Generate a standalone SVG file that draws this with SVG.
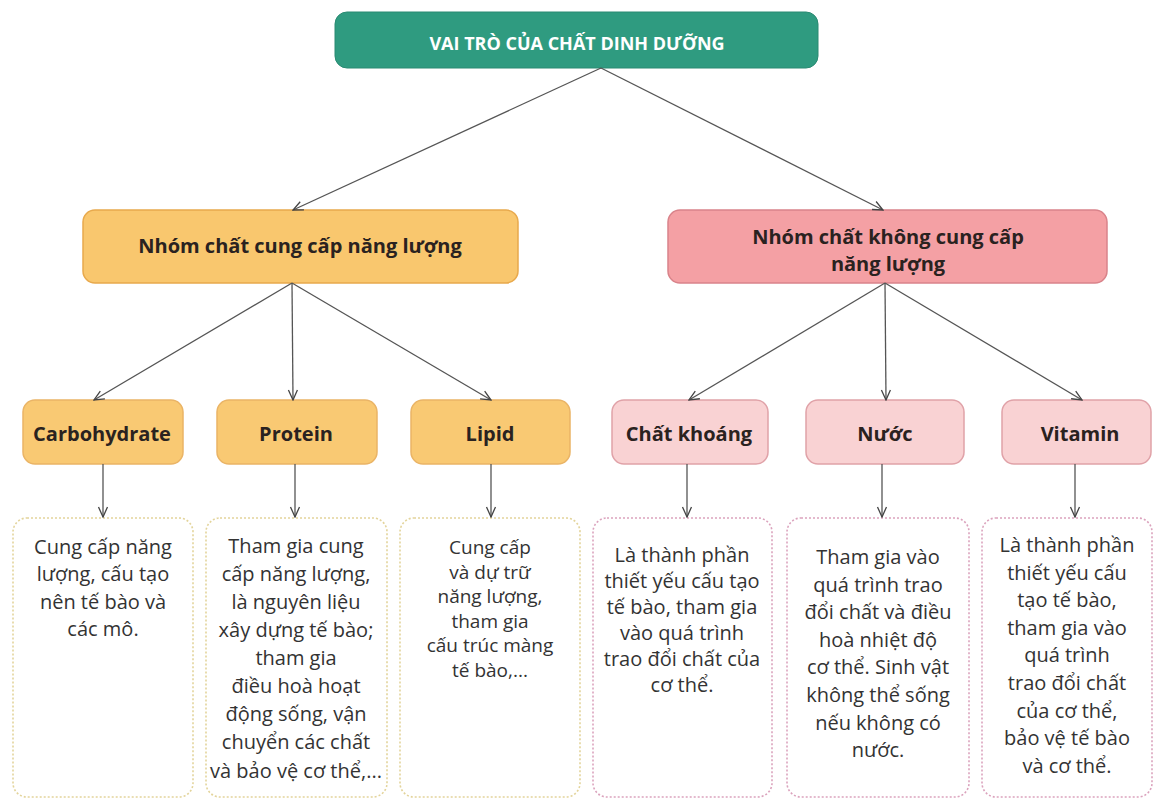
<svg xmlns="http://www.w3.org/2000/svg" width="1154" height="800" viewBox="0 0 1154 800">
<defs>
<marker id="arr" viewBox="0 0 12 12" refX="11" refY="6" markerWidth="12" markerHeight="12" markerUnits="userSpaceOnUse" orient="auto">
<path d="M1,1.5 L11,6 L1,10.5" fill="none" stroke="#444" stroke-width="1.3"/>
</marker>
<style>
.title{fill:#2f9b80;stroke:#2a8a72;stroke-width:1}
.gY{fill:#f9c76e;stroke:#e8a94c;stroke-width:1.5}
.gP{fill:#f4a0a4;stroke:#d9838a;stroke-width:1.5}
.lY{fill:#f9c973;stroke:#eab466;stroke-width:1.5}
.lP{fill:#f9d2d3;stroke:#e0a2a8;stroke-width:1.5}
.tY{fill:#fff;stroke:#e3d49b;stroke-width:1.6;stroke-dasharray:2 2}
.tP{fill:#fff;stroke:#dba3bd;stroke-width:1.6;stroke-dasharray:2 2}
text{font-family:"Open Sans","Noto Sans",sans-serif;text-anchor:middle;fill:#2b2b2b}
.tt{font-size:18px;font-weight:700;fill:#fff}
.gt{font-size:20px;font-weight:700;fill:#2a2220}
.lt{font-size:20px;font-weight:700;fill:#2a2220}
.bt{font-size:20px;fill:#333}
.bs{font-size:19px;fill:#333}
.conn line{stroke:#555;stroke-width:1.3;marker-end:url(#arr)}
</style>
</defs>
<rect width="1154" height="800" fill="#fff"/>

<g id="root">
<rect class="title" x="335" y="12" width="483" height="56" rx="12"/>
<text class="tt" x="577" y="50">VAI TRÒ CỦA CHẤT DINH DƯỠNG</text>
</g>

<g id="group-energy">
<rect class="gY" x="83" y="210" width="435" height="73" rx="12"/>
<text class="gt" x="300" y="253">Nhóm chất cung cấp năng lượng</text>
</g>
<g id="group-nonenergy">
<rect class="gP" x="668" y="210" width="439" height="73" rx="12"/>
<text class="gt" x="888" y="244">Nhóm chất không cung cấp</text>
<text class="gt" x="888" y="271">năng lượng</text>
</g>

<g id="carbohydrate">
<rect class="lY" x="23" y="400" width="160" height="64" rx="12"/>
<text class="lt" x="102" y="441">Carbohydrate</text>
</g>
<g id="protein">
<rect class="lY" x="217" y="400" width="160" height="64" rx="12"/>
<text class="lt" x="296" y="441">Protein</text>
</g>
<g id="lipid">
<rect class="lY" x="411" y="400" width="159" height="64" rx="12"/>
<text class="lt" x="490" y="441">Lipid</text>
</g>
<g id="chat-khoang">
<rect class="lP" x="612" y="400" width="156" height="64" rx="12"/>
<text class="lt" x="689" y="441">Chất khoáng</text>
</g>
<g id="nuoc">
<rect class="lP" x="806" y="400" width="158" height="64" rx="12"/>
<text class="lt" x="885" y="441">Nước</text>
</g>
<g id="vitamin">
<rect class="lP" x="1002" y="400" width="149" height="64" rx="12"/>
<text class="lt" x="1080" y="441">Vitamin</text>
</g>

<g id="desc-carbohydrate">
<rect class="tY" x="13" y="518" width="180" height="279" rx="14"/>
<text class="bt" x="103" y="554">Cung cấp năng</text>
<text class="bt" x="103" y="581">lượng, cấu tạo</text>
<text class="bt" x="103" y="609">nên tế bào và</text>
<text class="bt" x="103" y="636">các mô.</text>
</g>
<g id="desc-protein">
<rect class="tY" x="206" y="518" width="181" height="279" rx="14"/>
<text class="bt" x="296" y="553">Tham gia cung</text>
<text class="bt" x="296" y="581">cấp năng lượng,</text>
<text class="bt" x="296" y="609">là nguyên liệu</text>
<text class="bt" x="296" y="637">xây dựng tế bào;</text>
<text class="bt" x="296" y="665">tham gia</text>
<text class="bt" x="296" y="693">điều hoà hoạt</text>
<text class="bt" x="296" y="721">động sống, vận</text>
<text class="bt" x="296" y="749">chuyển các chất</text>
<text class="bt" x="296" y="778">và bảo vệ cơ thể,...</text>
</g>
<g id="desc-lipid">
<rect class="tY" x="400" y="518" width="180" height="279" rx="14"/>
<text class="bs" x="490" y="554">Cung cấp</text>
<text class="bs" x="490" y="578.5">và dự trữ</text>
<text class="bs" x="490" y="603">năng lượng,</text>
<text class="bs" x="490" y="627.5">tham gia</text>
<text class="bs" x="490" y="652">cấu trúc màng</text>
<text class="bs" x="490" y="676.5">tế bào,...</text>
</g>
<g id="desc-chat-khoang">
<rect class="tP" x="593" y="518" width="179" height="279" rx="14"/>
<text class="bt" x="682" y="562">Là thành phần</text>
<text class="bt" x="682" y="588">thiết yếu cấu tạo</text>
<text class="bt" x="682" y="614">tế bào, tham gia</text>
<text class="bt" x="682" y="640">vào quá trình</text>
<text class="bt" x="682" y="666">trao đổi chất của</text>
<text class="bt" x="682" y="692">cơ thể.</text>
</g>
<g id="desc-nuoc">
<rect class="tP" x="787" y="518" width="182" height="279" rx="14"/>
<text class="bt" x="878" y="564">Tham gia vào</text>
<text class="bt" x="878" y="591.6">quá trình trao</text>
<text class="bt" x="878" y="619.2">đổi chất và điều</text>
<text class="bt" x="878" y="646.8">hoà nhiệt độ</text>
<text class="bt" x="878" y="674.4">cơ thể. Sinh vật</text>
<text class="bt" x="878" y="702">không thể sống</text>
<text class="bt" x="878" y="729.6">nếu không có</text>
<text class="bt" x="878" y="757.2">nước.</text>
</g>
<g id="desc-vitamin">
<rect class="tP" x="982" y="518" width="170" height="279" rx="14"/>
<text class="bt" x="1067" y="552">Là thành phần</text>
<text class="bt" x="1067" y="579.6">thiết yếu cấu</text>
<text class="bt" x="1067" y="607.2">tạo tế bào,</text>
<text class="bt" x="1067" y="634.8">tham gia vào</text>
<text class="bt" x="1067" y="662.4">quá trình</text>
<text class="bt" x="1067" y="690">trao đổi chất</text>
<text class="bt" x="1067" y="717.6">của cơ thể,</text>
<text class="bt" x="1067" y="745.2">bảo vệ tế bào</text>
<text class="bt" x="1067" y="772.8">và cơ thể.</text>
</g>

<g id="connectors" class="conn">
<line x1="601" y1="68" x2="293" y2="210"/>
<line x1="601" y1="68" x2="883" y2="210"/>
<line x1="292" y1="283" x2="94" y2="400"/>
<line x1="292" y1="283" x2="293" y2="400"/>
<line x1="292" y1="283" x2="491" y2="400"/>
<line x1="885" y1="283" x2="689" y2="400"/>
<line x1="885" y1="283" x2="886" y2="400"/>
<line x1="885" y1="283" x2="1082" y2="400"/>
<line x1="103" y1="464" x2="103" y2="517"/>
<line x1="295" y1="464" x2="295" y2="517"/>
<line x1="491" y1="464" x2="491" y2="517"/>
<line x1="687" y1="464" x2="687" y2="517"/>
<line x1="882" y1="464" x2="882" y2="517"/>
<line x1="1075" y1="464" x2="1075" y2="517"/>
</g>
</svg>
